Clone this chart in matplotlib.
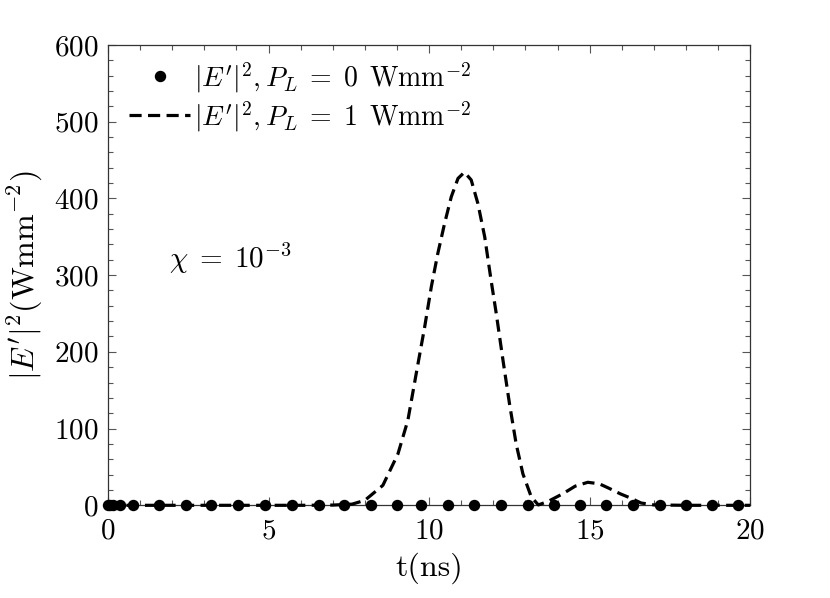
import matplotlib
matplotlib.use("Agg")
import matplotlib.pyplot as plt
from matplotlib.ticker import MultipleLocator

plt.rcParams["font.family"] = "serif"
plt.rcParams["font.serif"] = ["cmr10"]
plt.rcParams["mathtext.fontset"] = "cm"
plt.rcParams["axes.unicode_minus"] = False
plt.rcParams["axes.formatter.use_mathtext"] = True

# P_L = 0 : field stays at zero (solver time steps)
t_zero = [0.0, 0.05, 0.17, 0.38, 0.79, 1.6, 2.43, 3.22, 4.06, 4.89, 5.72, 6.56,
          7.35, 8.18, 8.99, 9.75, 10.58, 11.39, 12.25, 13.08, 13.89, 14.71,
          15.51, 16.35, 17.18, 17.99, 18.82, 19.61]
e_zero = [0.0] * len(t_zero)

# P_L = 1 : pulse
t_pulse = [0.0, 2.0, 4.0, 6.0, 7.0, 7.6, 8.0, 8.56, 9.03, 9.34, 9.6, 9.86, 10.07,
           10.27, 10.48, 10.69, 10.9, 11.1, 11.31, 11.52, 11.73, 11.93, 12.09,
           12.3, 12.5, 12.71, 12.92, 13.18, 13.4, 13.7, 14.16, 14.55, 14.94,
           15.3, 15.61, 15.95, 16.24, 16.6, 17.0, 18.0, 19.0, 20.0]
e_pulse = [0.0, 0.0, 0.0, 0.0, 0.3, 1.5, 6.5, 26, 67, 111, 172, 232, 285,
           328, 367, 402, 426, 434, 424, 393, 350, 293, 250,
           189, 133, 80, 41, 11, 0.5, 5, 15, 25, 30,
           28, 22, 15, 10, 3, 0.5, 0.0, 0.0, 0.0]

fig = plt.figure(figsize=(8.3, 5.98), dpi=100)
ax = fig.add_axes([0.130, 0.155, 0.774, 0.770])

ax.plot(t_zero, e_zero, "o", color="black", markersize=7.2, clip_on=False,
        zorder=4, label=r"$|E'|^2, P_L\;=\;0\ \,\mathrm{Wmm}^{-2}$")
ax.plot(t_pulse, e_pulse, color="black", linewidth=2.3, linestyle=(0, (3.8, 2.0)),
        clip_on=False, zorder=3, label=r"$|E'|^2, P_L\;=\;1\ \,\mathrm{Wmm}^{-2}$")

ax.text(1.9, 322, r"$\chi\;=\;10^{-3}$", fontsize=21, ha="left", va="center")

ax.set_xlim(0, 20)
ax.set_ylim(0, 600)
ax.xaxis.set_major_locator(MultipleLocator(5))
ax.xaxis.set_minor_locator(MultipleLocator(1))
ax.yaxis.set_major_locator(MultipleLocator(100))
ax.yaxis.set_minor_locator(MultipleLocator(20))
ax.tick_params(which="both", direction="in", top=True, right=True,
               labelsize=21, color="#555555")
ax.tick_params(which="major", length=6, width=0.8)
ax.tick_params(which="minor", length=3.5, width=0.8)
ax.tick_params(axis="x", which="both", pad=9)
ax.tick_params(axis="y", which="both", pad=7)
for s in ax.spines.values():
    s.set_color("#333333")
    s.set_linewidth(0.9)

ax.set_xlabel("t(ns)", fontsize=23, labelpad=6)
ax.set_ylabel(r"$|E'|^2(\mathrm{Wmm}^{-2})$", fontsize=23, labelpad=6)

ax.legend(loc="upper left", frameon=False, fontsize=20, handlelength=2.2,
          handletextpad=0.15, borderaxespad=0.0, labelspacing=0.15,
          borderpad=0.3, bbox_to_anchor=(0.02, 0.985))

fig.savefig("out.png", dpi=100)
